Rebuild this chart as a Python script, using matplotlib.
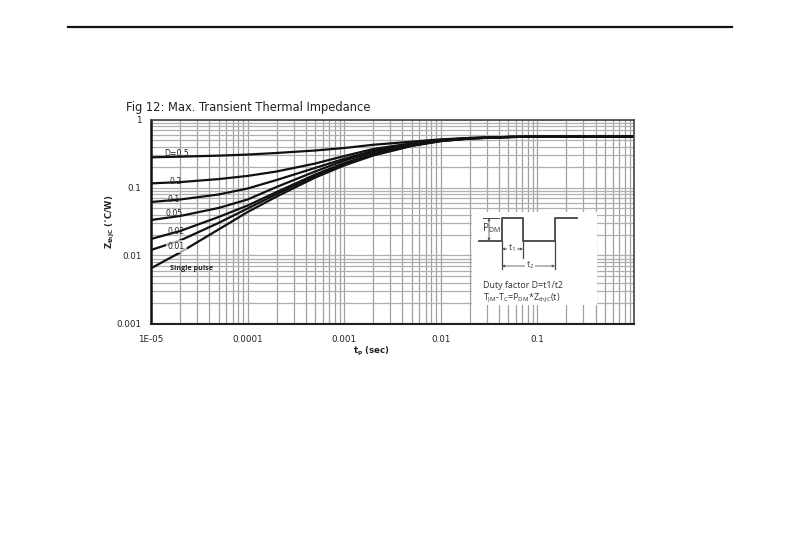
import matplotlib
matplotlib.use("Agg")
from matplotlib import pyplot as plt
from matplotlib.lines import Line2D
from matplotlib.patches import FancyArrowPatch, Rectangle
from matplotlib.transforms import Affine2D

W, H = 790, 554

# time axis (sec) and curves
tp = [1e-5, 2e-5, 5e-5, 1e-4, 2e-4, 5e-4, 1e-3, 2e-3, 5e-3, 1e-2, 2e-2, 5e-2, 0.1, 1]
d_05 = [0.278, 0.284, 0.294, 0.305, 0.322, 0.350, 0.381, 0.425, 0.472, 0.511, 0.535, 0.553, 0.559, 0.559]
d_02 = [0.115, 0.120, 0.133, 0.148, 0.172, 0.225, 0.290, 0.368, 0.447, 0.499, 0.535, 0.553, 0.559, 0.559]
d_01 = [0.0612, 0.0666, 0.0789, 0.0967, 0.129, 0.194, 0.264, 0.347, 0.436, 0.494, 0.531, 0.553, 0.559, 0.559]
d_005 = [0.0333, 0.0381, 0.0500, 0.0666, 0.102, 0.172, 0.249, 0.330, 0.429, 0.491, 0.529, 0.553, 0.559, 0.559]
d_002 = [0.0175, 0.0229, 0.0368, 0.0543, 0.0859, 0.155, 0.229, 0.311, 0.419, 0.486, 0.527, 0.553, 0.559, 0.559]
d_001 = [0.01205, 0.01662, 0.0301, 0.0491, 0.0802, 0.148, 0.218, 0.301, 0.413, 0.483, 0.526, 0.553, 0.559, 0.559]
single = [0.00648, 0.01107, 0.0241, 0.0436, 0.0737, 0.140, 0.211, 0.296, 0.408, 0.480, 0.524, 0.553, 0.559, 0.559]
curves = [d_05, d_02, d_01, d_005, d_002, d_001, single]

x_ticks = [1e-5, 1e-4, 1e-3, 1e-2, 1e-1]
x_labels = ["1E-05", "0.0001", "0.001", "0.01", "0.1"]
y_ticks = [0.001, 0.01, 0.1, 1]
y_labels = ["0.001", "0.01", "0.1", "1"]

fig = plt.figure(figsize=(W / 100, H / 100), dpi=100)
# pixels measured from the top left corner of the image
px = Affine2D().scale(1, -1).translate(0, H)

ax = fig.add_axes([151 / W, 1 - 323.5 / H, 483 / W, 204 / H])
ax.set_xscale("log")
ax.set_yscale("log")
ax.set_xlim(1e-5, 1)
ax.set_ylim(0.001, 1)
ax.grid(True, which="both", axis="x", color="#a0a0a0", linewidth=0.9)
ax.grid(True, which="both", axis="y", color="#b0b0b0", linewidth=0.9)
ax.set_axisbelow(True)
ax.tick_params(which="both", length=0)
ax.set_xticks(x_ticks)
ax.set_xticklabels(x_labels, fontsize=6.3, color="#222222")
ax.set_yticks(y_ticks)
ax.set_yticklabels(y_labels, fontsize=6.3, color="#222222")
ax.tick_params(axis="x", pad=8)
ax.tick_params(axis="y", pad=7)
for name, s in ax.spines.items():
    s.set_linewidth({"left": 1.8, "bottom": 1.5}.get(name, 1.2))
    s.set_color({"left": "#111111", "bottom": "#222222"}.get(name, "#444444"))
    s.set_zorder(6)

for c in curves:
    ax.plot(tp, c, color="#111111", linewidth=1.6, zorder=3, solid_capstyle="butt", solid_joinstyle="round")


# curve labels, placed in image pixels
def curve_label(x, y, s, **kw):
    ax.text(x, y, s, transform=px, fontsize=5.6, color="#222222", ha="left", va="center", zorder=4, **kw)


curve_label(164, 153.7, "D=0.5")
curve_label(170, 182, "0.2")
curve_label(168, 199.7, "0.1")
curve_label(166, 214, "0.05")
curve_label(167, 232, "0.02")
curve_label(168, 246.7, "0.01", bbox=dict(facecolor="white", edgecolor="none", alpha=0.65, pad=1.5))
ax.text(170, 269, "Single pulse", transform=px, fontsize=5.2, color="#222222", ha="left", va="center",
        zorder=4, fontweight="bold", family="Open Sans")

ax.set_xlabel("t$_\\mathregular{p}$ (sec)", fontsize=6.2, fontweight="bold", color="#222222", labelpad=0)
ax.xaxis.set_label_coords((371 - 151) / 483, -(351.5 - 323.5) / 204, transform=ax.transAxes)
ax.xaxis.label.set_verticalalignment("center")
ax.set_ylabel("Z$_\\mathregular{thJC}$ ($^{\\circ}$C/W)", fontsize=6.0, fontweight="bold", color="#222222")
ax.yaxis.set_label_coords(-(151 - 110.5) / 483, (323.5 - 222) / 204, transform=ax.transAxes)
ax.yaxis.label.set_verticalalignment("center")

# title and page rule
fig.text(126 / W, 1 - 107.5 / H, "Fig 12: Max. Transient Thermal Impedance", fontsize=8.3,
         color="#222222", va="center", ha="left")
fig.add_artist(Line2D([68, 732], [27, 27], color="#111111", linewidth=1.6, transform=px))

# white inset with the pulse sketch
fig.add_artist(Rectangle((472, 212), 125, 93, facecolor="white", edgecolor="none", transform=px, zorder=5))


def seg(xs, ys, lw=1.3, col="#444444"):
    fig.add_artist(Line2D(xs, ys, color=col, linewidth=lw, transform=px, zorder=6))


def arrow(x0, y0, x1, y1):
    fig.add_artist(FancyArrowPatch((x0, y0), (x1, y1), transform=px, arrowstyle="<|-|>", color="#555555",
                                   lw=0.6, shrinkA=0, shrinkB=0, mutation_scale=3.5, zorder=7))


seg([479, 502, 502, 523, 523, 555, 555, 577], [241, 241, 218, 218, 241, 241, 218, 218])
seg([483, 499], [218, 218], lw=0.7)
seg([502, 502], [241, 269], lw=0.9)
seg([523, 523], [241, 258], lw=0.9)
seg([555, 555], [241, 269], lw=0.9)
arrow(489, 218, 489, 241)
arrow(502, 249, 523, 249)
arrow(502, 266, 555, 266)


def label(x, y, s, size):
    fig.text(x / W, 1 - y / H, s, fontsize=size, color="#333333", va="center", ha="left",
             family="Open Sans", zorder=8)


label(482, 228, "P$_\\mathregular{DM}$", 7.2)
white = dict(facecolor="white", edgecolor="none", pad=0.5)
fig.text(512 / W, 1 - 248 / H, "t$_\\mathregular{1}$", fontsize=6.5, color="#444444", ha="center",
         va="center", family="Open Sans", zorder=8, bbox=white)
fig.text(530 / W, 1 - 265 / H, "t$_\\mathregular{2}$", fontsize=6.5, color="#444444", ha="center",
         va="center", family="Open Sans", zorder=8, bbox=white)
label(483, 285, "Duty factor D=t1/t2", 6.4)
label(483, 298.5, "T$_\\mathregular{JM}$-T$_\\mathregular{C}$=P$_\\mathregular{DM}$*Z$_\\mathregular{thJC}$(t)", 6.4)

fig.savefig("out.png", dpi=100)
